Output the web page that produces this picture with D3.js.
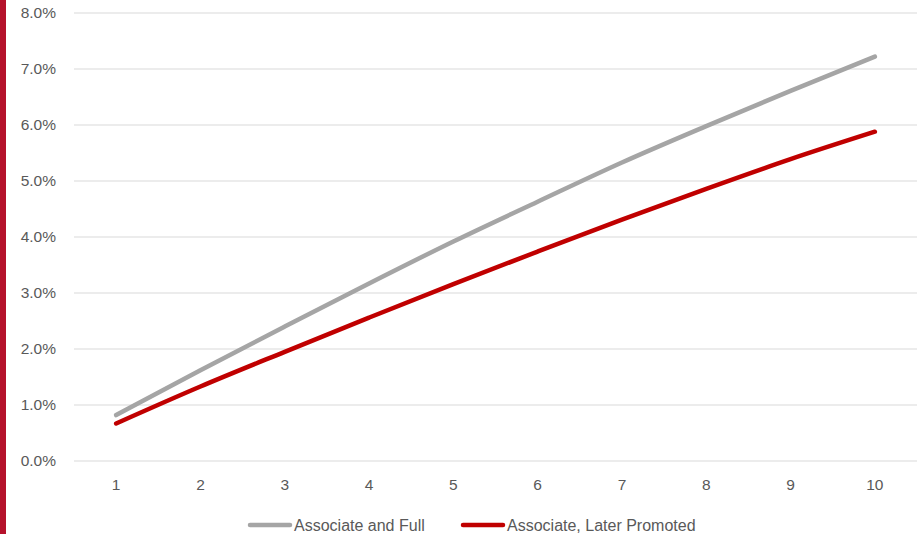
<!DOCTYPE html>
<html>
<head>
<meta charset="utf-8">
<script src="https://cdn.jsdelivr.net/npm/d3@7/dist/d3.min.js"></script>
<style>
  html, body { margin: 0; padding: 0; background: #fff; }
  svg { display: block; font-family: "Liberation Sans", Arial, sans-serif; }
</style>
</head>
<body>
<svg id="chart" width="918" height="534"></svg>
<script>
// Years since promotion on the x axis
const categories = [1, 2, 3, 4, 5, 6, 7, 8, 9, 10];
// Cumulative rates, in percent
const associateAndFull = [0.82, 1.62, 2.40, 3.17, 3.92, 4.63, 5.33, 5.98, 6.61, 7.22];
const associateLaterPromoted = [0.67, 1.33, 1.95, 2.56, 3.16, 3.74, 4.31, 4.86, 5.39, 5.88];
const yTicks = [0, 1, 2, 3, 4, 5, 6, 7, 8];
const seriesNames = ["Associate and Full", "Associate, Later Promoted"];
const seriesColors = ["#a5a5a5", "#c00000"];

const svg = d3.select("#chart");
const W = 918, H = 534;
const plot = { left: 74, right: 917, top: 13, bottom: 461 };
const textColor = "#595959";

// accent bar down the left edge
svg.append("rect").attr("x", 0).attr("y", 0).attr("width", 6).attr("height", H).attr("fill", "#b5122b");

const x = d3.scaleBand().domain(categories).range([plot.left, plot.right]);
const y = d3.scaleLinear().domain([0, 8]).range([plot.bottom, plot.top]);

// horizontal gridlines
svg.append("g").selectAll("line").data(yTicks).join("line")
  .attr("x1", plot.left).attr("x2", plot.right)
  .attr("y1", d => y(d)).attr("y2", d => y(d))
  .attr("stroke", "#d9d9d9").attr("stroke-width", 1);

// y axis labels
const yAxis = d3.axisLeft(y).tickValues(yTicks).tickFormat(d => d.toFixed(1) + "%").tickSize(0).tickPadding(0);
svg.append("g").attr("transform", `translate(${56},0)`).call(yAxis)
  .attr("font-size", null).attr("font-family", null)
  .call(g => g.select(".domain").remove())
  .selectAll("text").attr("fill", textColor).style("font-size", "15.5px");

// x axis labels
const xAxis = d3.axisBottom(x).tickSize(0).tickPadding(0);
svg.append("g").attr("transform", `translate(0,${479})`).call(xAxis)
  .attr("font-size", null).attr("font-family", null)
  .call(g => g.select(".domain").remove())
  .selectAll("text").attr("fill", textColor).style("font-size", "15.5px");

const line = d3.line()
  .x((d, i) => x(categories[i]) + x.bandwidth() / 2)
  .y(d => y(d))
  .curve(d3.curveMonotoneX);

[associateAndFull, associateLaterPromoted].forEach((vals, i) => {
  svg.append("path").datum(vals)
    .attr("d", line)
    .attr("fill", "none")
    .attr("stroke", seriesColors[i])
    .attr("stroke-width", 4.5)
    .attr("stroke-linecap", "round")
    .attr("stroke-linejoin", "round");
});

// legend
const legendX = [250, 463];
const legend = svg.append("g");
seriesNames.forEach((name, i) => {
  const g = legend.append("g").attr("transform", `translate(${legendX[i]},${525})`);
  g.append("line").attr("x1", 0).attr("x2", 40).attr("y1", 0).attr("y2", 0)
    .attr("stroke", seriesColors[i]).attr("stroke-width", 4.5).attr("stroke-linecap", "round");
  g.append("text").attr("x", 44).attr("y", 0).attr("dy", "0.35em")
    .attr("fill", textColor).style("font-size", "16px").text(name);
});
</script>
</body>
</html>
